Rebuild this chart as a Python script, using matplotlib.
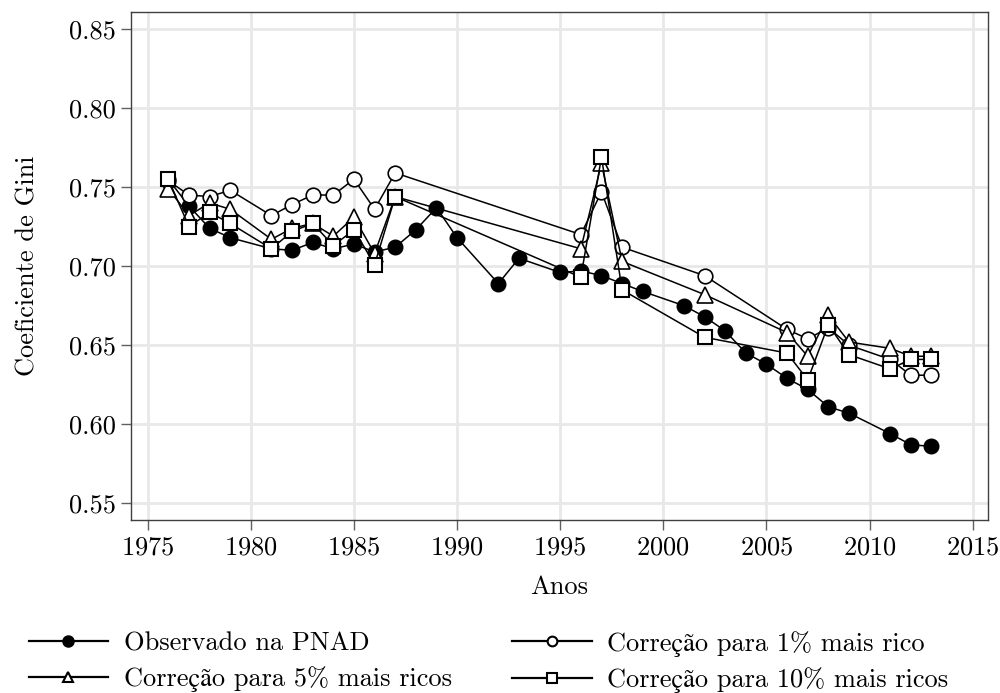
import matplotlib
matplotlib.use('Agg')
from matplotlib import pyplot as plt
from matplotlib.lines import Line2D

plt.rcParams['font.family'] = ['cmr10', 'STIXGeneral']
plt.rcParams['axes.formatter.use_mathtext'] = True

# Observado na PNAD
obs_years = [1976, 1977, 1978, 1979, 1981, 1982, 1983, 1984, 1985, 1986, 1987, 1988, 1989, 1990,
             1992, 1993, 1995, 1996, 1997, 1998, 1999, 2001, 2002, 2003, 2004, 2005, 2006, 2007,
             2008, 2009, 2011, 2012, 2013]
obs_gini = [0.755, 0.738, 0.724, 0.718, 0.711, 0.710, 0.715, 0.711, 0.714, 0.709, 0.712, 0.723,
            0.737, 0.718, 0.689, 0.705, 0.696, 0.697, 0.694, 0.689, 0.684, 0.675, 0.668, 0.659,
            0.645, 0.638, 0.629, 0.622, 0.611, 0.607, 0.594, 0.587, 0.586]

# Correction series share the same years
corr_years = [1976, 1977, 1978, 1979, 1981, 1982, 1983, 1984, 1985, 1986, 1987, 1996, 1997, 1998,
              2002, 2006, 2007, 2008, 2009, 2011, 2012, 2013]
top1_gini = [0.754, 0.745, 0.744, 0.748, 0.732, 0.739, 0.745, 0.745, 0.755, 0.736, 0.759, 0.720,
             0.747, 0.712, 0.694, 0.660, 0.654, 0.661, 0.650, 0.641, 0.631, 0.631]
top5_gini = [0.749, 0.732, 0.740, 0.736, 0.717, 0.724, 0.727, 0.719, 0.731, 0.708, 0.744, 0.711,
             0.765, 0.703, 0.682, 0.658, 0.643, 0.669, 0.652, 0.648, 0.643, 0.643]
top10_gini = [0.755, 0.725, 0.734, 0.727, 0.711, 0.722, 0.727, 0.713, 0.723, 0.701, 0.744, 0.693,
              0.769, 0.685, 0.655, 0.645, 0.628, 0.663, 0.644, 0.635, 0.641, 0.641]

labels = ['Observado na PNAD', 'Correção para 1% mais rico',
          'Correção para 5% mais ricos', 'Correção para 10% mais ricos']

fig = plt.figure(figsize=(10, 6.93), dpi=100)
ax = fig.add_axes([0.131, 1 - 520 / 693, 0.857, 508 / 693])

lw = 1.1
ms = 10.5
ax.plot(obs_years, obs_gini, color='black', lw=lw, marker='o', ms=ms,
        mfc='black', mec='black', zorder=3)
ax.plot(corr_years, top1_gini, color='black', lw=lw, marker='o', ms=ms,
        mfc='white', mec='black', mew=1.2, zorder=4)
ax.plot(corr_years, top5_gini, color='black', lw=lw, marker='^', ms=ms + 0.5,
        mfc='white', mec='black', mew=1.2, zorder=5)
ax.plot(corr_years, top10_gini, color='black', lw=lw, marker='s', ms=ms - 0.3,
        mfc='white', mec='black', mew=1.5, zorder=6)

ax.set_xlim(1974.19, 2015.74)
ax.set_ylim(0.5394, 0.8608)
ax.set_xticks(range(1975, 2016, 5))
ax.set_yticks([0.55, 0.60, 0.65, 0.70, 0.75, 0.80, 0.85])
ax.yaxis.set_major_formatter(plt.FuncFormatter(lambda v, p: f'{v:.2f}'))
ax.grid(True, color='#e8e8e8', lw=2.0, zorder=0)
ax.set_axisbelow(True)
for s in ax.spines.values():
    s.set_color('#404040')
    s.set_linewidth(1.0)
ax.tick_params(axis='both', length=7.5, width=1.0, color='#606060', labelsize=19, pad=3.5)
ax.set_xlabel('Anos', fontsize=19, labelpad=12)
ax.set_ylabel('Coeficiente de Gini', fontsize=19, labelpad=21)

# legend handles drawn a bit heavier, like the reference
leg_kw = dict(color='black', lw=1.6, mec='black', mew=1.5)
handles = [
    Line2D([0], [0], marker='o', ms=7.5, mfc='black', **leg_kw),
    Line2D([0], [0], marker='^', ms=7.5, mfc='white', **leg_kw),
    Line2D([0], [0], marker='o', ms=7, mfc='white', **leg_kw),
    Line2D([0], [0], marker='s', ms=7, mfc='white', **leg_kw),
]
fig.legend(handles, [labels[0], labels[2], labels[1], labels[3]],
           loc='center left', bbox_to_anchor=(0.005, 0.045),
           ncol=2, frameon=False, fontsize=19, handlelength=3.0,
           handletextpad=0.6, columnspacing=2.3, labelspacing=0.4)

plt.savefig('out.png', dpi=100, facecolor='white')
